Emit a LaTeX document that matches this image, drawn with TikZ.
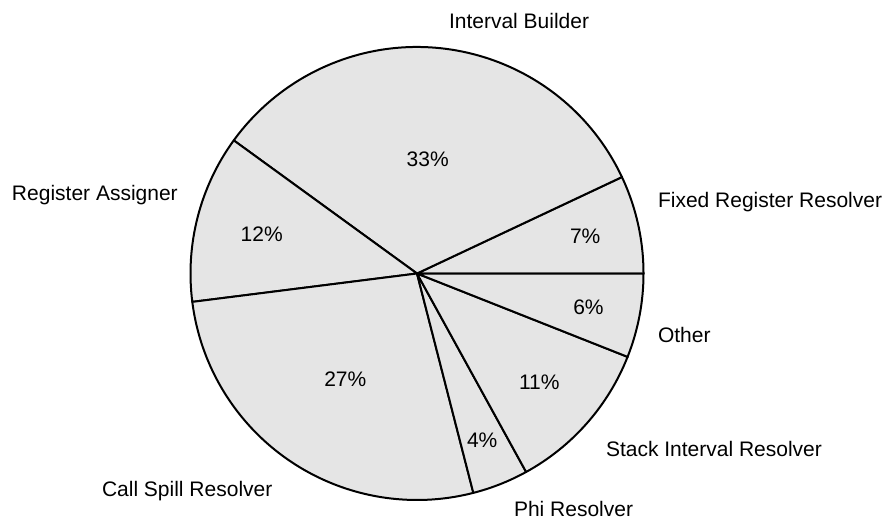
\documentclass[tikz,border=0pt]{standalone}
\usepackage{fontspec}
\setmainfont{Liberation Sans}
\begin{document}
\begin{tikzpicture}[x=1pt,y=1pt,
  slice/.style={fill=sliceGray,draw=black,line width=2pt,line join=round},
  lbl/.style={anchor=base west,inner sep=0pt,outer sep=0pt,font=\fontsize{21}{25}\selectfont}]
\definecolor{sliceGray}{HTML}{E5E5E5}
\useasboundingbox (0,0) rectangle (885,520);
\coordinate (c) at (417,246.5);
\def\R{226.5}
\foreach \a/\b in {0/25.2, 25.2/144, 144/187.2, 187.2/284.4, 284.4/298.8, 298.8/338.4, 338.4/360}{
  \draw[slice] (c) -- ++(\a:\R) arc[start angle=\a, end angle=\b, radius=\R] -- cycle;
}
% outside labels
\node[lbl] (ib) at (449,491.7) {Interval Builder};
\node[lbl] (ra) at (12,319.3) {Register Assigner};
\node[lbl] (frr) at (658,312.3) {Fixed Register Resolver};
\node[lbl] (oth) at (658,177.3) {Other};
\node[lbl] (sir) at (606,63.3) {Stack Interval Resolver};
\node[lbl] (phi) at (514,4) {Phi Resolver};
\node[lbl] (csr) at (102,24) {Call Spill Resolver};
% percentages
\node[lbl] (p33) at (406.7,353.3) {33\%};
\node[lbl] (p7) at (570,276.7) {7\%};
\node[lbl] (p12) at (240.7,279) {12\%};
\node[lbl] (p27) at (324.3,134) {27\%};
\node[lbl] (p4) at (467,73) {4\%};
\node[lbl] (p11) at (519,131) {11\%};
\node[lbl] (p6) at (573.3,206) {6\%};
\end{tikzpicture}
\end{document}
